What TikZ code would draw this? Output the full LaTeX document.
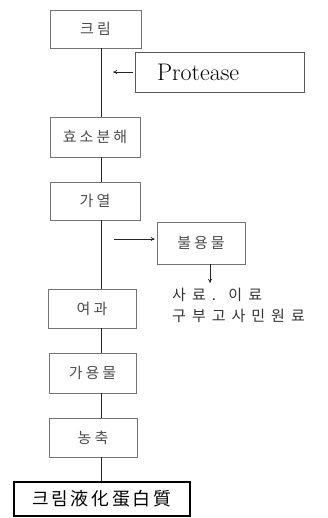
\documentclass[tikz,border=0pt]{standalone}
\usepackage{fontspec}
\newfontfamily\kr{Noto Sans CJK KR}[LetterSpace=20]
\newfontfamily\krend{Noto Sans CJK KR}[LetterSpace=15]
\newfontfamily\krwide{Noto Sans CJK KR}[LetterSpace=40]
\usetikzlibrary{arrows.meta}
\begin{document}
\begin{tikzpicture}[x=1pt,y=-1pt,
  stepbox/.style={draw=black!55, line width=0.6pt, inner sep=0pt,
    text=black!70, font=\kr\fontsize{15}{17}\selectfont},
  endbox/.style={draw=black, line width=1.3pt, inner sep=0pt,
    font=\krend\fontsize{18}{20}\selectfont},
  flow/.style={draw=black!85, line width=0.9pt},
  feed/.style={draw=black!85, line width=0.7pt, -{To[length=4pt,width=4pt]}}]
\useasboundingbox (0,0) rectangle (327,518);
\coordinate (spine) at (101,0);

% process steps
\node[stepbox, minimum width=91pt, minimum height=38pt] (cream) at (95.5,29) {크림};
\node[draw=black!65, line width=0.6pt, minimum width=169pt, minimum height=40pt,
  inner sep=0pt, text width=169pt, align=left,
  font=\fontsize{24}{26}\selectfont] (protease) at (219.5,72) {\hspace*{22pt}Protease};
\node[stepbox, minimum width=90pt, minimum height=40pt] (enzyme) at (95,137) {효소분해};
\node[stepbox, minimum width=90pt, minimum height=38pt] (heat) at (95,201) {가열};
\node[stepbox, minimum width=88pt, minimum height=42pt] (insol) at (201,243) {불용물};
\node[stepbox, minimum width=88pt, minimum height=39pt] (filter) at (92,308.5) {여과};
\node[stepbox, minimum width=87pt, minimum height=40pt] (soluble) at (92.5,373) {가용물};
\node[stepbox, minimum width=88pt, minimum height=39pt] (conc) at (93,437.5) {농축};
\node[endbox, minimum width=176pt, minimum height=34pt] (product) at (102,499) {크림液化蛋白質};

% uses of the insoluble fraction
\node[anchor=north west, align=left, inner sep=0pt, text=black!80,
  font=\krwide\fontsize{15}{21}\selectfont] (uses) at (172,288) {사료. 이료\\구부고사민원료};

% main flow
\draw[flow] (cream.south -| spine) -- (enzyme.north -| spine);
\draw[flow] (enzyme.south -| spine) -- (heat.north -| spine);
\draw[flow] (heat.south -| spine) -- (filter.north -| spine);
\draw[flow] (filter.south -| spine) -- (soluble.north -| spine);
\draw[flow] (soluble.south -| spine) -- (conc.north -| spine);
\draw[flow] (conc.south -| spine) -- (product.north -| spine);

% side branches
\draw[feed, shorten <=2pt, shorten >=12pt] (protease.west) -- (protease.west -| spine);
\draw[feed, shorten <=13pt, shorten >=2pt] ([yshift=4pt]insol.west -| spine) -- ([yshift=4pt]insol.west);
\draw[feed, shorten >=5pt] ([xshift=9pt]insol.south) -- ([xshift=9pt]insol.south |- uses.north);
\end{tikzpicture}
\end{document}
